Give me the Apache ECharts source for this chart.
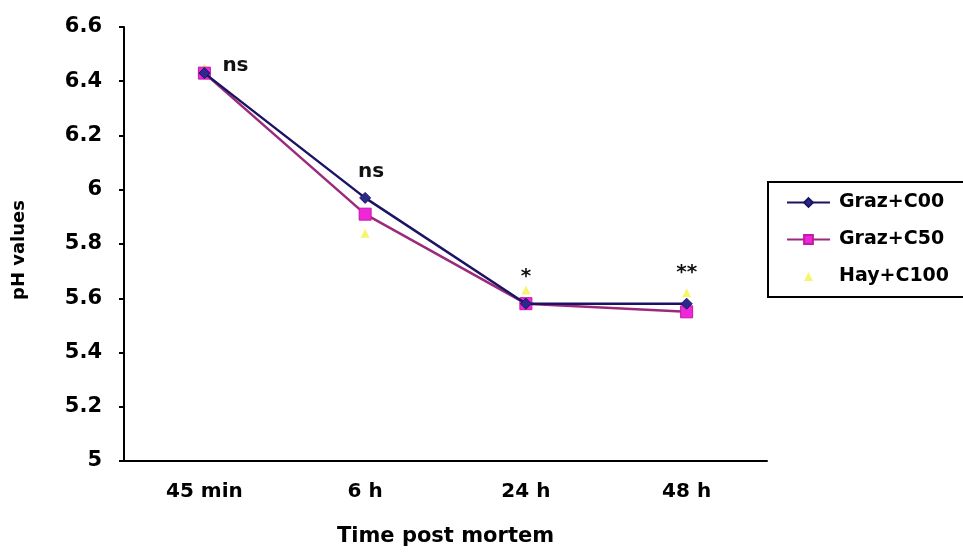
<!DOCTYPE html>
<html>
    <head>
        <meta charset="utf-8">
        <title>pH post mortem</title>
        <script src="https://cdn.jsdelivr.net/npm/echarts@6/dist/echarts.min.js"></script>
        <style>
            html, body { margin: 0; padding: 0; background: #fff; }
            #container { width: 963px; height: 552px; }
        </style>
    </head>
    <body>
        <div id="container"></div>
    </body>
    <script>
        // data
        var times = ['45 min', '6 h', '24 h', '48 h'];
        var grazC00 = [6.43, 5.97, 5.58, 5.58];
        var grazC50 = [6.43, 5.91, 5.58, 5.55];
        var hayC100 = [6.45, 5.84, 5.63, 5.62];
        var sigLabels = ['ns', 'ns', '*', '**'];
        var yTicks = [5, 5.2, 5.4, 5.6, 5.8, 6, 6.2, 6.4, 6.6];

        var chartDom = document.getElementById('container');
        var myChart = echarts.init(chartDom);
        var font = 'DejaVu Sans, Verdana, sans-serif';

        // significance marks sit on the first series' points
        var sigPos = ['right', 'top', 'top', 'top'];
        var sigOffset = [[0, -7], [6, -2], [0, -3], [0, -7]];
        var c00Data = grazC00.map(function (v, i) {
            return {
                value: v,
                label: {
                    show: true,
                    formatter: sigLabels[i],
                    position: sigPos[i],
                    offset: sigOffset[i],
                    distance: i == 0 ? 12 : 8
                }
            };
        });

        var option = {
            animation: false,
            textStyle: { fontFamily: font },
            grid: {
                left: 124,
                right: 196,
                top: 27,
                bottom: 91
            },
            legend: {
                orient: 'vertical',
                left: 768,
                top: 182,
                padding: [10, 30, 10, 18],
                itemGap: 16,
                itemWidth: 43,
                itemHeight: 11,
                borderColor: '#000',
                borderWidth: 2,
                textStyle: {
                    fontFamily: font,
                    fontWeight: 'bold',
                    fontSize: 19,
                    lineHeight: 21,
                    padding: [0, 0, 0, 4],
                    color: '#000'
                },
                data: ['Graz+C00', 'Graz+C50', 'Hay+C100']
            },
            xAxis: {
                type: 'category',
                data: times,
                boundaryGap: true,
                name: 'Time post mortem',
                nameLocation: 'middle',
                nameGap: 65,
                nameTextStyle: {
                    fontFamily: font,
                    fontWeight: 'bold',
                    fontSize: 21,
                    color: '#000'
                },
                axisLine: { lineStyle: { color: '#000', width: 2 } },
                axisTick: { length: 5, lineStyle: { color: '#000', width: 2 } },
                axisLabel: {
                    margin: 21,
                    fontFamily: font,
                    fontWeight: 'bold',
                    fontSize: 20,
                    color: '#000'
                }
            },
            yAxis: {
                type: 'value',
                min: yTicks[0],
                max: yTicks[yTicks.length - 1],
                interval: 0.2,
                name: 'pH values',
                nameLocation: 'middle',
                nameGap: 96,
                nameRotate: 90,
                nameTextStyle: {
                    fontFamily: font,
                    fontWeight: 'bold',
                    fontSize: 18,
                    color: '#000',
                    padding: [0, 12, 0, 0]
                },
                splitLine: { show: false },
                axisLine: { show: true, lineStyle: { color: '#000', width: 2 } },
                axisTick: { show: true, length: 5, lineStyle: { color: '#000', width: 2 } },
                axisLabel: {
                    margin: 22,
                    fontFamily: font,
                    fontWeight: 'bold',
                    fontSize: 21,
                    color: '#000',
                    formatter: function (v) {
                        return Math.round(v * 10) / 10 + '';
                    }
                }
            },
            series: [
                {
                    name: 'Graz+C00',
                    type: 'line',
                    data: c00Data,
                    symbol: 'diamond',
                    symbolSize: 11,
                    z: 3,
                    itemStyle: { color: '#2b2a8c', borderColor: '#1b1464', borderWidth: 1 },
                    lineStyle: { color: '#1b1464', width: 2.5 },
                    label: {
                        fontFamily: font,
                        fontWeight: 'bold',
                        fontSize: 20,
                        color: '#111'
                    }
                },
                {
                    name: 'Graz+C50',
                    type: 'line',
                    data: grazC50,
                    symbol: 'rect',
                    symbolSize: 12,
                    z: 2,
                    itemStyle: { color: '#f027d8', borderColor: '#c21aa8', borderWidth: 1 },
                    lineStyle: { color: '#9c2a7a', width: 2.5 }
                },
                {
                    name: 'Hay+C100',
                    type: 'line',
                    data: hayC100,
                    symbol: 'triangle',
                    symbolSize: 9,
                    z: 1,
                    itemStyle: { color: '#f7f56e' },
                    lineStyle: { width: 0, opacity: 0 }
                }
            ]
        };

        myChart.setOption(option);
    </script>
</html>
